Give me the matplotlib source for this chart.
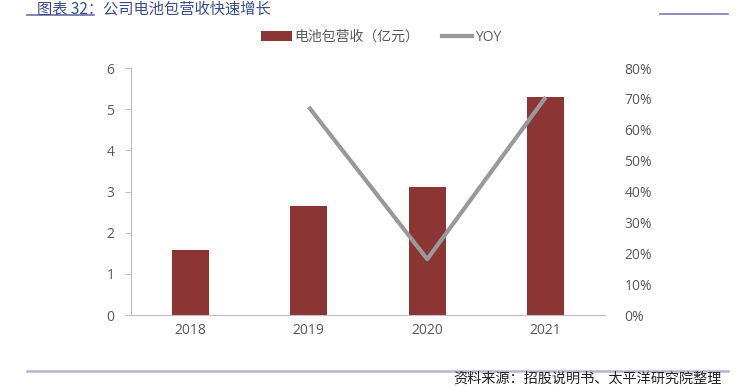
import matplotlib
matplotlib.use("Agg")
import matplotlib.pyplot as plt
from matplotlib.lines import Line2D
from matplotlib.patches import Patch
from matplotlib.ticker import FuncFormatter

plt.rcParams['font.family'] = ['Noto Sans CJK SC', 'DejaVu Sans']
num_font = ['Open Sans', 'Noto Sans CJK SC']

years = ['2018', '2019', '2020', '2021']
revenue = [1.57, 2.64, 3.11, 5.30]          # 电池包营收（亿元）
yoy = [None, 0.674, 0.181, 0.706]          # YOY

bar_color = '#8B3535'
line_color = '#999999'
tick_color = '#595959'

fig = plt.figure(figsize=(7.36, 3.87), dpi=100)
ax = fig.add_axes([0.178, 0.186, 0.644, 0.638])
x = list(range(len(years)))
ax.bar(x, revenue, width=0.31, color=bar_color, zorder=2)
ax.set_xlim(-0.5, 3.5)
ax.set_ylim(0, 6)
ax.set_yticks(range(0, 7))
ax.set_xticks(x)
ax.set_xticklabels(years)
for s in ['top', 'right']:
    ax.spines[s].set_visible(False)
for s in ['left', 'bottom']:
    ax.spines[s].set_color('#BFBFBF')
    ax.spines[s].set_linewidth(0.8)
ax.tick_params(axis='y', colors='#BFBFBF', labelcolor=tick_color, labelsize=10,
               length=4, width=0.8, pad=8)
ax.tick_params(axis='x', length=0, labelcolor=tick_color, labelsize=10, pad=6)

ax2 = ax.twinx()
xs = [i for i, v in enumerate(yoy) if v is not None]
ys = [v for v in yoy if v is not None]
ax2.plot(xs, ys, color=line_color, linewidth=3, zorder=3, solid_capstyle='butt')
ax2.set_ylim(0, 0.8)
ax2.set_yticks([i / 10 for i in range(9)])
ax2.yaxis.set_major_formatter(FuncFormatter(lambda v, p: f"{v * 100:.0f}%"))
for s in ['top', 'right', 'left', 'bottom']:
    ax2.spines[s].set_visible(False)
ax2.tick_params(axis='y', length=0, labelcolor=tick_color, labelsize=10, pad=14)

for lab in ax.get_xticklabels() + ax.get_yticklabels() + ax2.get_yticklabels():
    lab.set_family(num_font)

handles = [Patch(facecolor=bar_color, edgecolor='none'),
           Line2D([0], [0], color=line_color, linewidth=3)]
leg = fig.legend(handles, ['电池包营收（亿元）', 'YOY'], loc='center',
                 bbox_to_anchor=(0.518, 0.904), ncol=2, frameon=False, fontsize=10,
                 handlelength=2.2, handleheight=0.8, handletextpad=0.2, columnspacing=1.6,
                 labelcolor=tick_color)
leg.get_texts()[1].set_family(num_font)

# header and footer
fig.text(0.050, 0.999, '图表 32：公司电池包营收快速增长', color='#3A4C8E', fontsize=11,
         ha='left', va='top')
fig.add_artist(Line2D([27 / 736, 94 / 736], [1 - 14.7 / 387] * 2, color='#6A6FA8', lw=1.2))
fig.add_artist(Line2D([660 / 736, 728 / 736], [1 - 14.3 / 387] * 2, color='#7A7CB0', lw=1.2))
fig.add_artist(Line2D([27 / 736, 728 / 736], [1 - 370.5 / 387] * 2, color='#B4B4D2', lw=1.8))
fig.text(722 / 736, 1 - 378.5 / 387, '资料来源：招股说明书、太平洋研究院整理', color='#222222',
         fontsize=10.2, ha='right', va='center')

fig.savefig('out.png', dpi=100)
